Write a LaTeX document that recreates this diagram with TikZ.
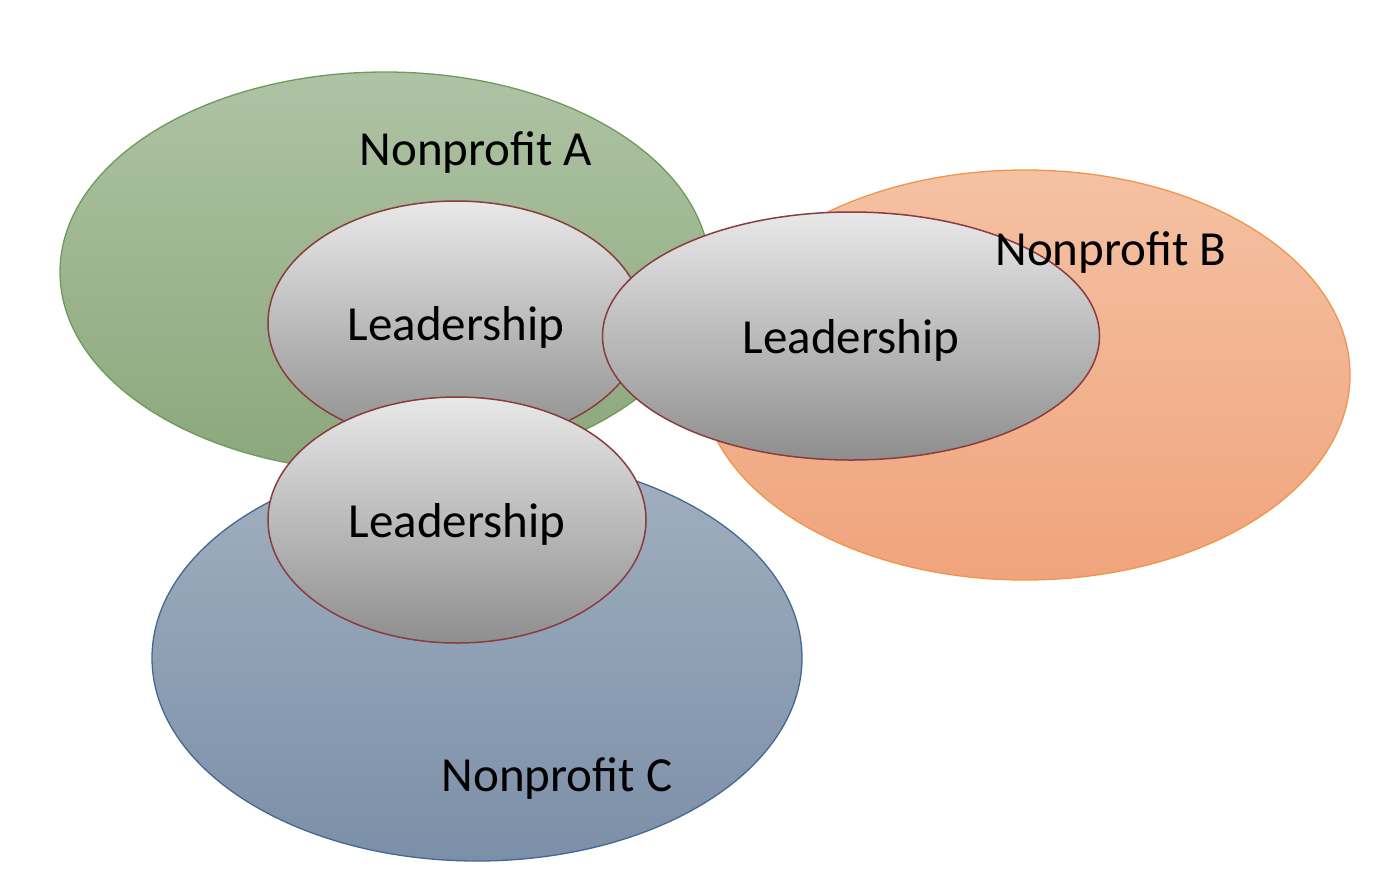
\documentclass[tikz,border=0pt]{standalone}
\usepackage{fontspec}
\setmainfont{Carlito}
\usetikzlibrary{shapes.geometric}
\definecolor{aTop}{HTML}{AEC3A4}
\definecolor{aBot}{HTML}{8BA77C}
\definecolor{aLine}{HTML}{6F9A5A}
\definecolor{bTop}{HTML}{F4C1A3}
\definecolor{bBot}{HTML}{F0A47C}
\definecolor{bLine}{HTML}{F0954C}
\definecolor{cTop}{HTML}{A2B0C0}
\definecolor{cBot}{HTML}{7B8FA8}
\definecolor{cLine}{HTML}{44688F}
\definecolor{lTop}{HTML}{E8E8E8}
\definecolor{lBot}{HTML}{8E8E8E}
\definecolor{lLine}{HTML}{8A3C3E}
\tikzset{
  org/.style={ellipse, inner sep=0pt, line width=1.3pt},
  lead/.style={ellipse, inner sep=0pt, line width=1.5pt, draw=lLine, top color=lTop, bottom color=lBot,
    font=\fontsize{49}{58}\selectfont, text depth=-6pt},
  lbl/.style={font=\fontsize{49}{58}\selectfont, inner sep=0pt}
}
\begin{document}
\begin{tikzpicture}[x=1pt,y=-1pt]
\useasboundingbox (0,0) rectangle (1396,884);
\node[org, draw=aLine, top color=aTop, bottom color=aBot, minimum width=650pt, minimum height=400pt] (A) at (385,272) {};
\node[org, draw=bLine, top color=bTop, bottom color=bBot, minimum width=650pt, minimum height=410pt] (B) at (1025,375) {};
\node[org, draw=cLine, top color=cTop, bottom color=cBot, minimum width=650pt, minimum height=406pt] (C) at (477,658) {};
\node[lead, minimum width=376pt, minimum height=244pt] (L1) at (456,323) {Leadership};
\node[lead, minimum width=497pt, minimum height=248pt] (L2) at (851,336) {Leadership};
\node[lead, minimum width=378pt, minimum height=246pt] (L3) at (457,520) {Leadership};
\node[lbl] (tA) at (476,153) {Nonprofit A};
\node[lbl] (tB) at (1111,253) {Nonprofit B};
\node[lbl] (tC) at (557,778) {Nonprofit C};
\end{tikzpicture}
\end{document}
